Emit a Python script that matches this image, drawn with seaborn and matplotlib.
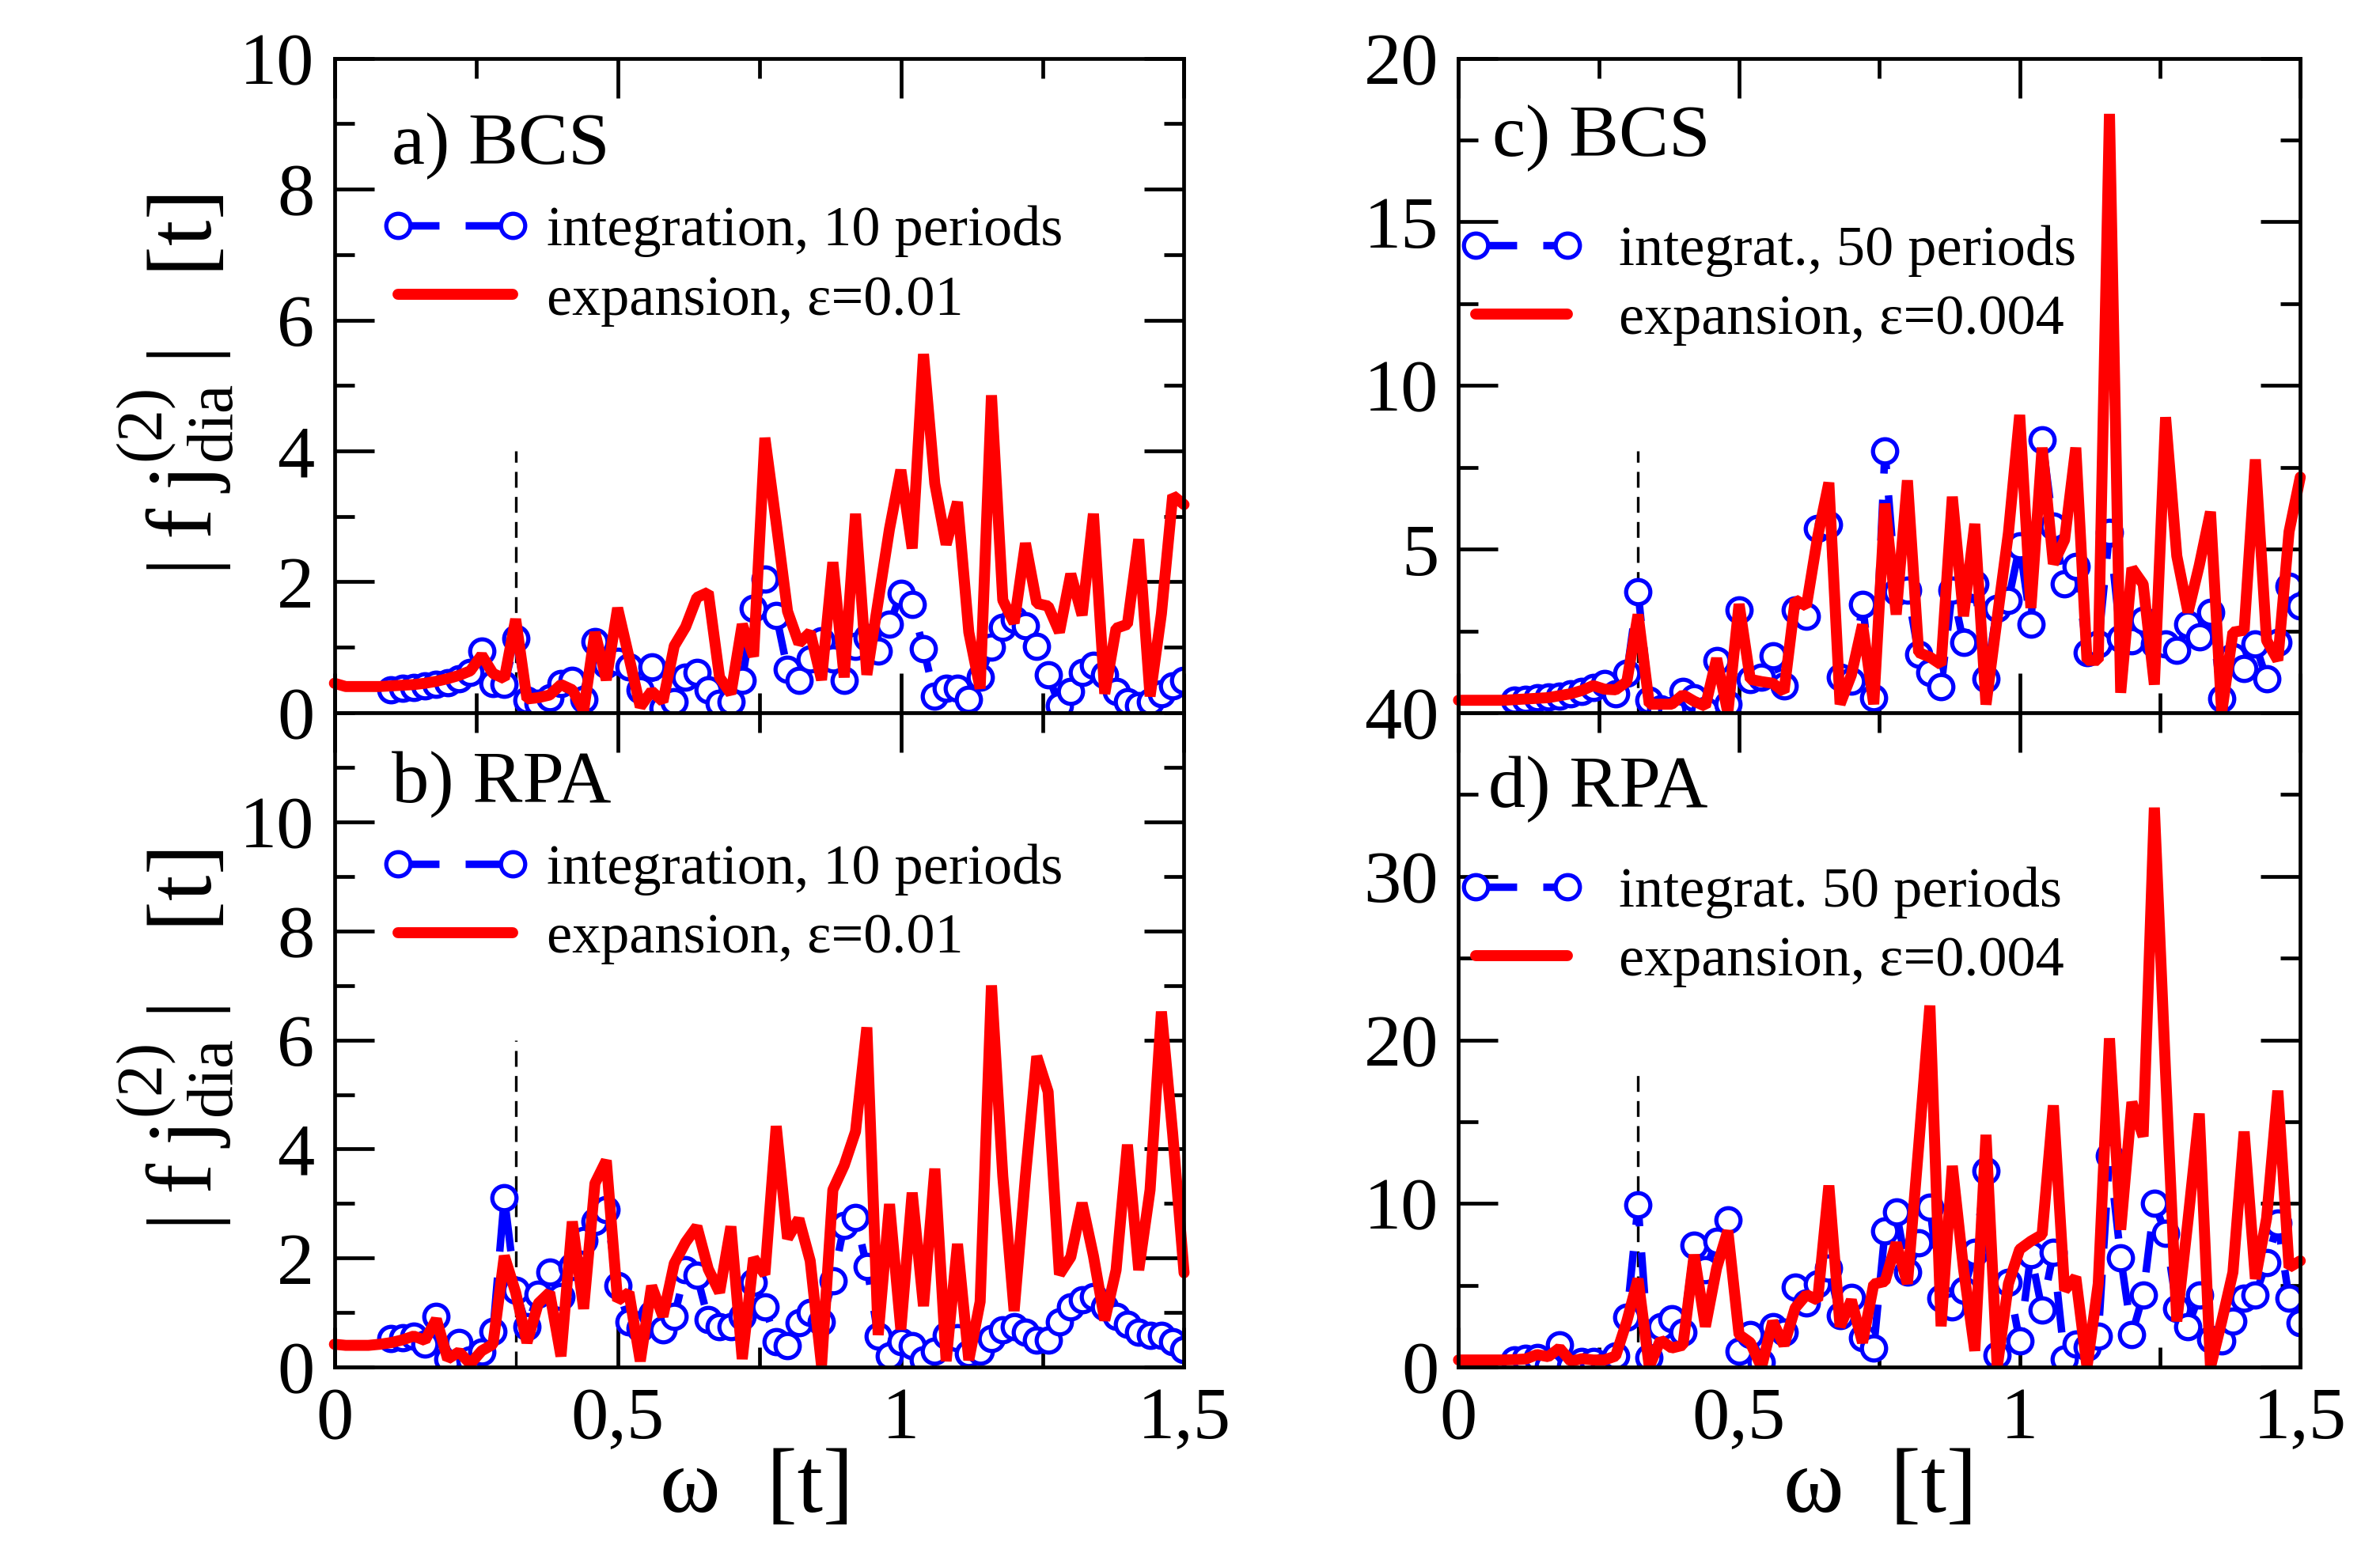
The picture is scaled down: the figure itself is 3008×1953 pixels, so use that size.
import numpy as np
import matplotlib
matplotlib.use("Agg")
import matplotlib.pyplot as plt
import seaborn as sns

# frequency grids (expansion starts at 0, integration at 0.1), step 0.02
omega_exp = np.linspace(0.0, 1.5, 76)
omega_int = np.linspace(0.1, 1.5, 71)

# a) BCS, 10 periods / eps=0.01
a_exp = [0.45, 0.40, 0.40, 0.40, 0.40, 0.41, 0.42, 0.43, 0.45, 0.48,
         0.52, 0.57, 0.64, 0.88, 0.60, 0.52, 1.43, 0.21, 0.23, 0.27,
         0.43, 0.35, 0.03, 1.23, 0.50, 1.60, 0.85, 0.09, 0.33, 0.17,
         1.02, 1.31, 1.76, 1.84, 0.54, 0.29, 1.35, 0.86, 4.20, 2.90,
         1.55, 1.06, 1.23, 0.50, 2.30, 0.54, 3.04, 0.58, 1.70, 2.81,
         3.71, 2.51, 5.48, 3.50, 2.57, 3.22, 1.23, 0.37, 4.85, 1.72,
         1.37, 2.59, 1.67, 1.63, 1.23, 2.12, 1.49, 3.04, 0.29, 1.29,
         1.35, 2.65, 0.25, 1.51, 3.32, 3.18]
a_int = [0.35, 0.37, 0.39, 0.41, 0.43, 0.46, 0.52, 0.62, 0.94, 0.45,
         0.43, 1.13, 0.19, 0.15, 0.23, 0.45, 0.50, 0.21, 1.09, 0.74,
         0.78, 0.70, 0.35, 0.70, 0.07, 0.17, 0.54, 0.62, 0.35, 0.15,
         0.17, 0.50, 1.60, 2.04, 1.49, 0.66, 0.50, 0.82, 1.10, 0.82,
         0.50, 1.02, 1.15, 0.94, 1.35, 1.82, 1.65, 0.98, 0.25, 0.37,
         0.37, 0.21, 0.54, 1.00, 1.31, 1.43, 1.33, 1.02, 0.58, 0.11,
         0.33, 0.62, 0.72, 0.58, 0.33, 0.17, 0.11, 0.17, 0.29, 0.41,
         0.50]

# b) RPA, 10 periods / eps=0.01
b_exp = [0.42, 0.40, 0.40, 0.40, 0.42, 0.45, 0.50, 0.57, 0.49, 0.88,
         0.15, 0.28, 0.06, 0.30, 0.42, 2.04, 1.37, 0.45, 1.17, 1.37,
         0.20, 2.67, 1.07, 3.37, 3.79, 1.22, 1.37, 0.11, 1.49, 0.93,
         1.90, 2.29, 2.58, 1.80, 1.37, 2.58, 0.15, 2.00, 1.70, 4.42,
         2.36, 2.72, 1.95, 0.03, 3.25, 3.70, 4.32, 6.23, 0.59, 2.99,
         0.69, 3.20, 1.12, 3.64, 0.11, 2.26, 0.13, 1.20, 7.00, 3.50,
         1.03, 3.50, 5.70, 5.05, 1.70, 2.02, 3.01, 2.04, 0.86, 1.78,
         4.08, 1.78, 3.25, 6.52, 4.27, 1.73]
b_int = [0.52, 0.54, 0.57, 0.42, 0.93, 0.15, 0.45, 0.13, 0.28, 0.66,
         3.11, 1.41, 0.74, 1.34, 1.75, 1.29, 1.85, 2.33, 2.67, 2.89,
         1.49, 0.83, 0.71, 0.98, 0.69, 0.93, 1.78, 1.68, 0.88, 0.74,
         0.74, 0.93, 1.56, 1.10, 0.47, 0.40, 0.81, 1.00, 0.83, 1.58,
         2.60, 2.74, 1.85, 0.57, 0.20, 0.47, 0.40, 0.13, 0.30, 0.59,
         0.54, 0.25, 0.30, 0.52, 0.69, 0.74, 0.64, 0.49, 0.49, 0.83,
         1.10, 1.24, 1.29, 1.10, 0.93, 0.78, 0.64, 0.59, 0.59, 0.47,
         0.32]

# c) BCS, 50 periods / eps=0.004
c_exp = [0.38, 0.38, 0.38, 0.38, 0.38, 0.40, 0.42, 0.44, 0.46, 0.52,
         0.58, 0.68, 0.83, 0.72, 0.70, 0.95, 3.00, 0.26, 0.26, 0.26,
         0.55, 0.35, 0.20, 1.66, 0.00, 3.32, 1.02, 0.95, 0.90, 0.64,
         3.45, 3.26, 5.37, 7.03, 0.26, 1.15, 2.69, 0.26, 6.39, 3.00,
         7.10, 1.84, 1.70, 1.47, 6.60, 2.95, 5.77, 0.25, 2.90, 5.50,
         9.10, 3.20, 8.10, 4.55, 5.28, 8.10, 1.60, 1.60, 18.3, 0.61,
         4.42, 3.93, 0.86, 9.03, 4.79, 3.07, 4.50, 6.14, 0.00, 2.46,
         2.52, 7.74, 2.21, 1.60, 5.53, 7.20]
c_int = [0.38, 0.41, 0.45, 0.49, 0.51, 0.58, 0.64, 0.77, 0.90, 0.58,
         1.21, 3.70, 0.38, 0.13, 0.06, 0.64, 0.45, 0.06, 1.60, 0.26,
         3.13, 1.02, 1.09, 1.73, 0.83, 3.13, 2.94, 5.63, 5.75, 1.09,
         0.96, 3.32, 0.45, 8.00, 3.70, 3.75, 1.78, 1.23, 0.80, 3.75,
         2.15, 3.93, 1.04, 3.19, 3.44, 5.10, 2.70, 8.35, 5.71, 3.93,
         4.48, 1.84, 2.09, 5.50, 2.27, 2.21, 2.83, 2.09, 2.09, 1.90,
         2.70, 2.33, 3.07, 0.43, 1.72, 1.35, 2.09, 1.04, 2.15, 3.87,
         3.26]

# d) RPA, 50 periods / eps=0.004
d_exp = [0.44, 0.44, 0.44, 0.44, 0.44, 0.46, 0.50, 0.77, 0.64, 1.17,
         0.36, 0.52, 0.44, 0.44, 0.68, 2.80, 5.40, 0.03, 1.66, 1.17,
         1.34, 6.87, 2.48, 6.06, 8.34, 1.99, 1.50, 0.00, 2.80, 1.34,
         3.62, 4.43, 4.10, 11.1, 2.48, 4.10, 1.50, 5.08, 5.24, 7.60,
         5.10, 13.5, 22.1, 2.50, 12.3, 6.00, 1.00, 14.2, 0.00, 5.10,
         7.20, 7.70, 8.10, 16.0, 4.70, 5.50, 0.00, 5.10, 20.1, 8.40,
         16.2, 14.1, 34.2, 18.0, 2.80, 9.00, 15.5, 0.00, 2.80, 5.80,
         14.4, 5.40, 9.10, 16.9, 6.10, 6.50]
d_int = [0.44, 0.52, 0.60, 0.05, 1.34, 0.05, 0.36, 0.36, 0.05, 0.68,
         3.05, 9.90, 0.60, 2.50, 2.96, 2.15, 7.44, 5.98, 7.70, 9.00,
         1.00, 2.00, 0.28, 2.50, 2.15, 4.90, 3.94, 5.08, 6.06, 3.13,
         4.27, 1.82, 1.17, 8.34, 9.50, 5.80, 7.60, 9.80, 4.20, 3.70,
         4.70, 7.00, 12.0, 0.75, 5.20, 1.60, 6.90, 3.50, 7.00, 0.50,
         1.40, 1.20, 1.90, 12.9, 6.70, 2.00, 4.40, 10.0, 8.20, 3.60,
         2.50, 4.40, 1.70, 1.60, 2.80, 4.20, 4.40, 6.40, 8.80, 4.20,
         2.70]

panel_names = ["a) BCS", "b) RPA", "c) BCS", "d) RPA"]
int_labels = ["integration, 10 periods", "integration, 10 periods",
              "integrat., 50 periods", "integrat. 50 periods"]
exp_labels = ["expansion, ε=0.01", "expansion, ε=0.01",
              "expansion, ε=0.004", "expansion, ε=0.004"]
y_max = [10, 12, 20, 40]
y_major = [[0, 2, 4, 6, 8, 10], [0, 2, 4, 6, 8, 10],
           [0, 5, 10, 15, 20], [0, 10, 20, 30, 40]]
# c's "0" sits under d's "40" in the original, so only "40" is printed there
y_ticklabels = [["0", "2", "4", "6", "8", "10"], ["0", "2", "4", "6", "8", "10"],
                ["", "5", "10", "15", "20"], ["0", "10", "20", "30", "40"]]
y_minor = [1, 1, 2.5, 5]
dash_top = [4, 6, 8, 18]
omega_gap = 0.32

sns.set_theme(style="ticks", rc={
    "axes.edgecolor": "black", "xtick.color": "black", "ytick.color": "black",
    "text.color": "black", "axes.labelcolor": "black",
})
plt.rcParams["font.family"] = ["Liberation Serif", "DejaVu Serif"]
plt.rcParams["mathtext.fontset"] = "custom"
plt.rcParams["mathtext.rm"] = "Liberation Serif"
plt.rcParams["mathtext.it"] = "Liberation Serif:italic"

fig = plt.figure(figsize=(15.04, 9.765), dpi=200)
positions = [[0.1405, 0.5387, 0.357, 0.4236], [0.1405, 0.1151, 0.357, 0.4236],
             [0.6128, 0.5387, 0.3537, 0.4236], [0.6128, 0.1151, 0.3537, 0.4236]]
exp_data = [a_exp, b_exp, c_exp, d_exp]
int_data = [a_int, b_int, c_int, d_int]

# label / legend placement in axes fractions
name_pos = [(0.067, 0.866), (0.067, 0.89), (0.040, 0.878), (0.035, 0.883)]
leg_pos = [(0.055, 0.775), (0.055, 0.80), (0.0, 0.745), (0.0, 0.765)]
leg_hl = [2.6, 2.6, 2.2, 2.2]
leg_pad = [0.3, 0.3, 0.6, 0.6]

for i in range(4):
    ax = fig.add_axes(positions[i])
    ax.plot([omega_gap, omega_gap], [0, dash_top[i]], color="black",
            lw=1.2, ls=(0, (6, 3.5)))
    sns.lineplot(x=omega_int, y=int_data[i], ax=ax, color="#0000ff",
                 lw=3.4, marker="o", markersize=11, markerfacecolor="white",
                 markeredgecolor="#0000ff", markeredgewidth=1.9,
                 label=int_labels[i], errorbar=None, sort=False)
    blue = ax.lines[-1]
    blue.set_linestyle((0, (5.5, 3.5)))
    sns.lineplot(x=omega_exp, y=exp_data[i], ax=ax, color="#ff0000",
                 lw=5.0, label=exp_labels[i], errorbar=None, sort=False)
    red = ax.lines[-1]
    red.set_solid_joinstyle("bevel")
    red.set_clip_on(False)

    ax.set_xlim(0, 1.5)
    ax.set_xticks([0, 0.5, 1, 1.5])
    ax.set_xticks([0.25, 0.75, 1.25], minor=True)
    ax.set_yticks(y_major[i])
    ax.set_yticklabels(y_ticklabels[i])
    ax.set_yticks(np.arange(0, y_max[i] + 0.01, y_minor[i]), minor=True)
    ax.set_ylim(0, y_max[i])
    ax.set_xlabel("")
    ax.set_ylabel("")
    ax.tick_params(which="both", direction="in", top=True, right=True,
                   width=1.7, labelsize=34, pad=9)
    ax.tick_params(which="major", length=18)
    ax.tick_params(which="minor", length=9)
    for sp in ax.spines.values():
        sp.set_linewidth(1.7)
    if i in (1, 3):
        ax.set_xticklabels(["0", "0,5", "1", "1,5"])
    else:
        ax.tick_params(labelbottom=False)

    ax.text(name_pos[i][0], name_pos[i][1], panel_names[i],
            transform=ax.transAxes, fontsize=34, ha="left", va="center")
    ax.legend(handles=[blue, red], loc="upper left",
              bbox_to_anchor=leg_pos[i], frameon=False, fontsize=26,
              numpoints=2, handlelength=leg_hl[i], handletextpad=leg_pad[i],
              labelspacing=0.3, borderpad=0, borderaxespad=0)

ylab = r"$|\;\mathrm{f}\;\mathrm{j}^{(2)}_{\mathrm{dia}}\;|$   [t]"
fig.text(0.074, 0.7505, ylab, rotation=90, fontsize=42, ha="center", va="center")
fig.text(0.074, 0.3269, ylab, rotation=90, fontsize=42, ha="center", va="center")
fig.text(0.318, 0.036, "ω  [t]", fontsize=42, ha="center", va="center")
fig.text(0.790, 0.036, "ω  [t]", fontsize=42, ha="center", va="center")

fig.savefig("out.png", dpi=200)
